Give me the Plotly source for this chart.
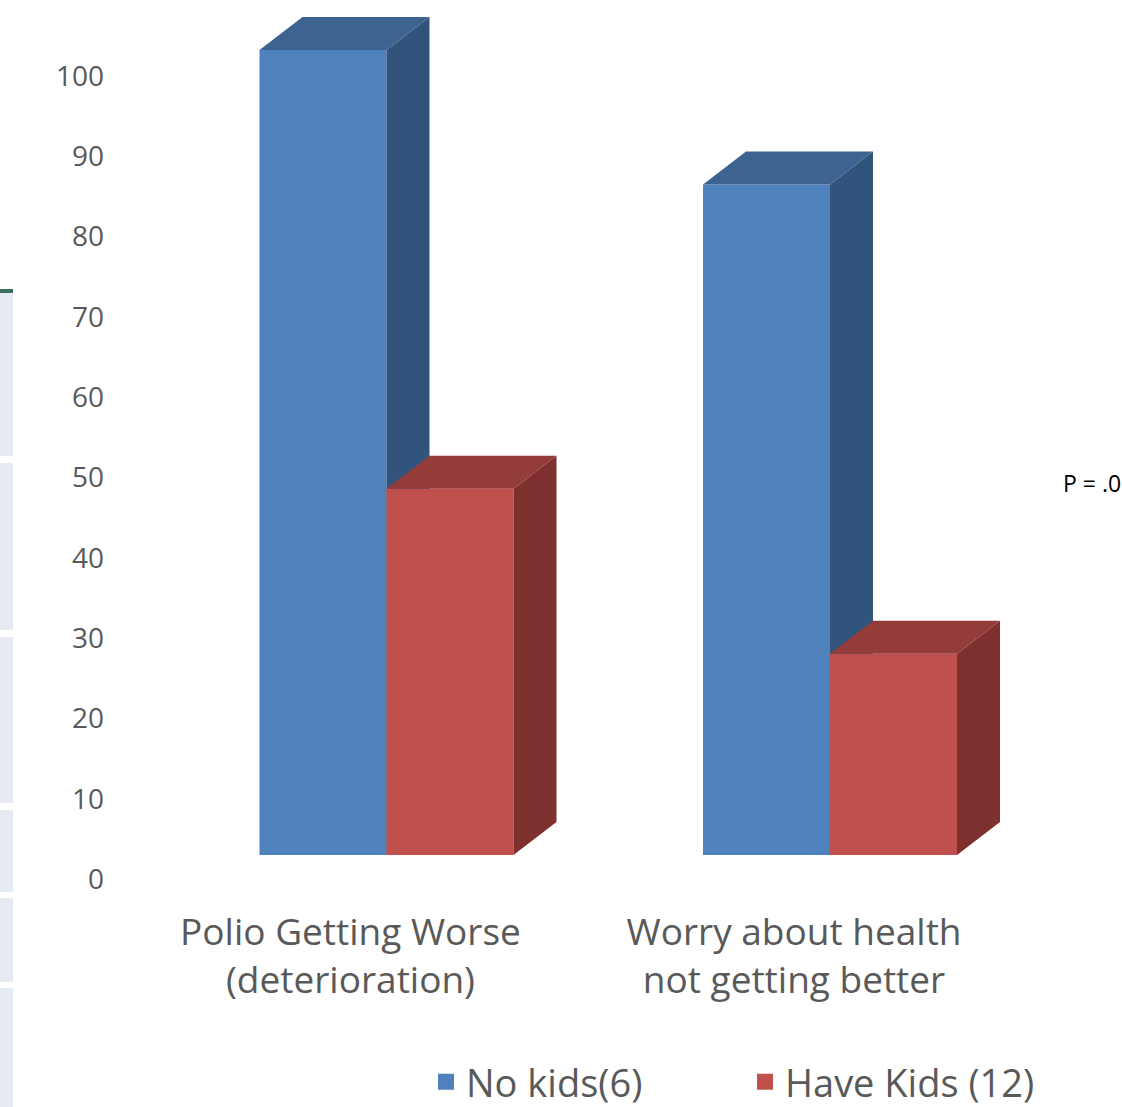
import plotly.graph_objects as go

# ---------------- data ----------------
categories = ["Polio Getting Worse<br>(deterioration)", "Worry about health<br>not getting better"]
series_names = ["No kids(6)", "Have Kids (12)"]
no_kids = [100, 83.3]
have_kids = [45.5, 25.0]
y_ticks = [0, 10, 20, 30, 40, 50, 60, 70, 80, 90, 100]
p_text = "P = .0"

# ---------------- style ----------------
W, H = 1122, 1107
ML, MR, MT, MB = 115, 10, 10, 212
PW, PH = W - ML - MR, H - MT - MB
FONT = "Open Sans"
GREY = "#595959"

BLUE = dict(front="#4F81BD", top="#3D6391", side="#32537C")
RED = dict(front="#C0504D", top="#943C3A", side="#7E302F")

# pixel geometry of the reference
px_per_x = 443.5          # pixels between the two category groups
x_center_px = 386.5       # pixel of category 0 group centre
bar_w = 127 / px_per_x    # bar width in x units
depth_x = 43 / px_per_x   # 3D depth offset in x units
label_shift = -36 / px_per_x

lab_scale = 8.03          # px per unit for tick axis
bar_scale = 8.05          # px per unit for bar axis
zero_lab_px = 879
zero_bar_px = 855
depth_y = 33 / bar_scale

bottom_px = MT + PH
x_range = [(ML - x_center_px) / px_per_x, (ML + PW - x_center_px) / px_per_x]
lab_lo = -(bottom_px - zero_lab_px) / lab_scale
lab_range = [lab_lo, lab_lo + PH / lab_scale]
bar_lo = -(bottom_px - zero_bar_px) / bar_scale
bar_range = [bar_lo, bar_lo + PH / bar_scale]


def paper_x(px):
    return (px - ML) / PW


def paper_y(py):
    return (bottom_px - py) / PH


fig = go.Figure()

positions = list(range(len(categories)))
series = [(no_kids, BLUE, -bar_w, "y2", series_names[0]),
          (have_kids, RED, 0.0, "y3", series_names[1])]

for vals, col, off, yax, name in series:
    fig.add_trace(go.Bar(x=positions, y=vals, width=bar_w, offset=off, yaxis=yax,
                         marker=dict(color=col["front"], line=dict(width=0)),
                         showlegend=False, hoverinfo="skip", name=name))
    for c, v in zip(positions, vals):
        x0 = c + off
        x1 = x0 + bar_w
        # side face
        fig.add_trace(go.Scatter(
            x=[x1, x1, x1 + depth_x, x1 + depth_x, x1],
            y=[0, v, v + depth_y, depth_y, 0],
            fill="toself", fillcolor=col["side"], mode="lines",
            line=dict(width=0, color=col["side"]), yaxis=yax,
            showlegend=False, hoverinfo="skip"))
        # top face
        fig.add_trace(go.Scatter(
            x=[x0, x1, x1 + depth_x, x0 + depth_x, x0],
            y=[v, v, v + depth_y, v + depth_y, v],
            fill="toself", fillcolor=col["top"], mode="lines",
            line=dict(width=0, color=col["top"]), yaxis=yax,
            showlegend=False, hoverinfo="skip"))

# legend entries
for vals, col, off, yax, name in series:
    fig.add_trace(go.Scatter(x=[None], y=[None], mode="markers", name=name,
                             marker=dict(symbol="square", size=16, color=col["front"],
                                         line=dict(width=0))))

# decorative strip at the left edge (slide remnant)
strip_segments = [(293, 456), (463, 630), (637, 803), (810, 892), (898, 982), (988, 1107)]
shapes = []
for a, b in strip_segments:
    shapes.append(dict(type="rect", xref="paper", yref="paper",
                       x0=paper_x(0), x1=paper_x(13), y0=paper_y(b), y1=paper_y(a),
                       fillcolor="#E6EAF3", line=dict(width=0), layer="below"))
shapes.append(dict(type="rect", xref="paper", yref="paper",
                   x0=paper_x(0), x1=paper_x(13), y0=paper_y(293), y1=paper_y(289),
                   fillcolor="#3F6E5C", line=dict(width=0), layer="below"))

fig.update_layout(
    width=W, height=H,
    margin=dict(l=ML, r=MR, t=MT, b=MB, pad=0, autoexpand=False),
    paper_bgcolor="white", plot_bgcolor="white",
    barmode="overlay",
    font=dict(family=FONT, color=GREY),
    xaxis=dict(range=x_range, tickmode="array",
               tickvals=[p + label_shift for p in positions], ticktext=categories,
               showgrid=False, zeroline=False, showline=False, ticks="",
               tickfont=dict(size=37, color=GREY, family=FONT), ticklabelstandoff=12),
    yaxis=dict(range=lab_range, tickmode="array", tickvals=y_ticks,
               ticktext=[str(t) for t in y_ticks],
               showgrid=False, zeroline=False, showline=False, ticks="",
               tickfont=dict(size=28, color=GREY, family=FONT), ticklabelstandoff=10),
    yaxis2=dict(range=bar_range, overlaying="y", visible=False),
    yaxis3=dict(range=bar_range, overlaying="y", visible=False),
    legend=dict(orientation="h", xref="container", yref="container",
                x=426 / W, y=(H - 1082) / H,
                xanchor="left", yanchor="middle",
                entrywidth=274, entrywidthmode="pixels",
                font=dict(size=38, color=GREY, family=FONT),
                bgcolor="rgba(0,0,0,0)", itemclick=False),
    annotations=[dict(text=p_text, xref="paper", yref="paper",
                      x=paper_x(1061), y=paper_y(483), xanchor="left", yanchor="middle",
                      showarrow=False, font=dict(size=23, color="black", family=FONT))],
    shapes=shapes,
)

fig.write_html("out.html")
